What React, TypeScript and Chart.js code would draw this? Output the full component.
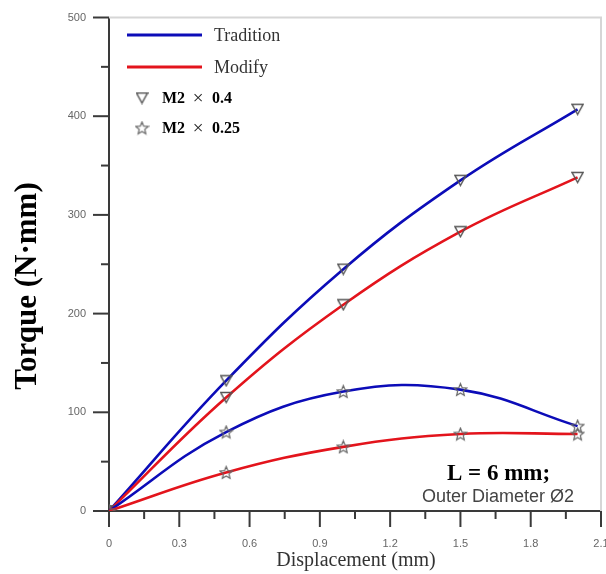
import React, { useEffect, useRef } from "react";
import { Chart, registerables } from "chart.js";

Chart.register(...registerables);

// ---- data ----
const displacement = [0, 0.5, 1.0, 1.5, 2.0];
const traditionM04 = [0, 132, 245, 335, 407];
const modifyM04 = [0, 115, 209, 283, 338];
const traditionM025 = [0, 80, 121, 123, 86];
const modifyM025 = [0, 39, 65, 78, 78];

const xTickValues = [0, 0.3, 0.6, 0.9, 1.2, 1.5, 1.8, 2.1];
const xTickLabels = ["0", "0.3", "0.6", "0.9", "1.2", "1.5", "1.8", "2.1"];
const yTickValues = [0, 100, 200, 300, 400, 500];
const yTickLabels = ["0", "100", "200", "300", "400", "500"];

const legendLines = ["Tradition", "Modify"];
const legendMarkerNames = ["M2", "M2"];
const legendMarkerFactors = ["0.4", "0.25"];

const BLUE = "#0c0cb8";
const RED = "#e3141c";
const MARK = "#555555";
const SERIF = "'Liberation Serif', 'Times New Roman', serif";
const SANS = "'Liberation Sans', Arial, sans-serif";

function makeTriangle(size: number, color: string) {
  const c = document.createElement("canvas");
  c.width = size;
  c.height = size;
  const ctx = c.getContext("2d")!;
  ctx.strokeStyle = color;
  ctx.lineWidth = 1.4;
  ctx.beginPath();
  ctx.moveTo(1, 1.5);
  ctx.lineTo(size - 1, 1.5);
  ctx.lineTo(size / 2, size - 1.5);
  ctx.closePath();
  ctx.stroke();
  return c;
}

function makeStar(size: number, color: string) {
  const c = document.createElement("canvas");
  c.width = size;
  c.height = size;
  const ctx = c.getContext("2d")!;
  ctx.strokeStyle = color;
  ctx.lineWidth = 1.2;
  const cx = size / 2;
  const cy = size / 2 + 0.5;
  const R = size / 2 - 1;
  const r = R * 0.45;
  ctx.beginPath();
  for (let i = 0; i < 10; i++) {
    const a = -Math.PI / 2 + (i * Math.PI) / 5;
    const rad = i % 2 === 0 ? R : r;
    ctx.lineTo(cx + rad * Math.cos(a), cy + rad * Math.sin(a));
  }
  ctx.closePath();
  ctx.stroke();
  return c;
}

export default function App() {
  const ref = useRef<HTMLCanvasElement | null>(null);

  useEffect(() => {
    if (!ref.current) return;
    const tri = makeTriangle(13, MARK);
    const star = makeStar(15, "#666666");

    const toPts = (ys: number[]) => displacement.map((x, i) => ({ x, y: ys[i] }));

    const series = (ys: number[], color: string, marker: HTMLCanvasElement, label: string) => ({
      label,
      data: toPts(ys),
      borderColor: color,
      borderWidth: 2.6,
      tension: 0.4,
      fill: false,
      pointStyle: marker,
      pointRadius: 6,
      pointHoverRadius: 6,
      pointBorderColor: MARK,
      pointBackgroundColor: "rgba(0,0,0,0)",
    });

    const decor = {
      id: "decor",
      beforeDatasetsDraw(chart: any) {
        const { ctx, chartArea: a } = chart;
        ctx.save();
        ctx.strokeStyle = "#d6d6d6";
        ctx.lineWidth = 2;
        ctx.beginPath();
        ctx.moveTo(a.left, a.top);
        ctx.lineTo(a.right, a.top);
        ctx.lineTo(a.right, a.bottom);
        ctx.stroke();
        ctx.restore();
      },
      afterDraw(chart: any) {
        const { ctx, chartArea: a, scales } = chart;
        const xs = scales.x;
        const ys = scales.y;
        ctx.save();
        ctx.strokeStyle = "#3a3a3a";
        ctx.lineWidth = 2;
        // x ticks (major + minor)
        xTickValues.forEach((v, i) => {
          const px = xs.getPixelForValue(v);
          ctx.beginPath();
          ctx.moveTo(px, a.bottom);
          ctx.lineTo(px, a.bottom + 16);
          ctx.stroke();
          if (i < xTickValues.length - 1) {
            const mx = xs.getPixelForValue((v + xTickValues[i + 1]) / 2);
            ctx.beginPath();
            ctx.moveTo(mx, a.bottom);
            ctx.lineTo(mx, a.bottom + 8);
            ctx.stroke();
          }
        });
        // y ticks
        yTickValues.forEach((v, i) => {
          const py = ys.getPixelForValue(v);
          ctx.beginPath();
          ctx.moveTo(a.left, py);
          ctx.lineTo(a.left - 16, py);
          ctx.stroke();
          if (i < yTickValues.length - 1) {
            const my = ys.getPixelForValue((v + yTickValues[i + 1]) / 2);
            ctx.beginPath();
            ctx.moveTo(a.left, my);
            ctx.lineTo(a.left - 8, my);
            ctx.stroke();
          }
        });

        // axis titles
        ctx.fillStyle = "#333333";
        ctx.font = `20px ${SERIF}`;
        ctx.textAlign = "center";
        ctx.textBaseline = "middle";
        ctx.fillText("Displacement (mm)", 356, 561);

        ctx.save();
        ctx.translate(28, 286);
        ctx.rotate(-Math.PI / 2);
        ctx.fillStyle = "#000000";
        ctx.font = `bold 31px ${SERIF}`;
        ctx.fillText("Torque (N·mm)", 0, 0);
        ctx.restore();

        // legend
        ctx.textAlign = "left";
        ctx.textBaseline = "middle";
        ctx.lineWidth = 3;
        const lineColors = [BLUE, RED];
        const lineYs = [35, 67];
        legendLines.forEach((t, i) => {
          ctx.strokeStyle = lineColors[i];
          ctx.beginPath();
          ctx.moveTo(127, lineYs[i]);
          ctx.lineTo(202, lineYs[i]);
          ctx.stroke();
          ctx.fillStyle = "#333333";
          ctx.font = `18px ${SERIF}`;
          ctx.fillText(t, 214, lineYs[i] + 1);
        });
        const markImgs = [tri, star];
        const markYs = [98, 128];
        legendMarkerNames.forEach((t, i) => {
          const img = markImgs[i];
          ctx.drawImage(img, 142 - img.width / 2, markYs[i] - img.height / 2);
          ctx.fillStyle = "#000000";
          ctx.textAlign = "left";
          ctx.font = `bold 16px ${SERIF}`;
          ctx.fillText(t, 162, markYs[i] + 1);
          ctx.textAlign = "center";
          ctx.font = `19px ${SERIF}`;
          ctx.fillStyle = "#222222";
          ctx.fillText("×", 198, markYs[i] + 1);
          ctx.textAlign = "left";
          ctx.fillStyle = "#000000";
          ctx.font = `bold 16px ${SERIF}`;
          ctx.fillText(legendMarkerFactors[i], 212, markYs[i] + 1);
        });

        // annotation
        ctx.textAlign = "left";
        ctx.fillStyle = "#000000";
        ctx.font = `bold 23px ${SERIF}`;
        ctx.fillText("L = 6 mm;", 447, 474);
        ctx.fillStyle = "#444444";
        ctx.font = `18px ${SANS}`;
        ctx.fillText("Outer Diameter Ø2", 422, 497);
        ctx.restore();
      },
    };

    const chart = new Chart(ref.current, {
      type: "line",
      data: {
        datasets: [
          series(modifyM025, RED, star, "Modify M2×0.25"),
          series(traditionM025, BLUE, star, "Tradition M2×0.25"),
          series(modifyM04, RED, tri, "Modify M2×0.4"),
          series(traditionM04, BLUE, tri, "Tradition M2×0.4"),
        ],
      },
      options: {
        responsive: false,
        animation: false,
        events: [],
        layout: { padding: { top: 17.5, right: 29, left: 0, bottom: 0 } },
        plugins: { legend: { display: false }, tooltip: { enabled: false } },
        scales: {
          x: {
            type: "linear",
            min: 0,
            max: 2.1,
            afterBuildTicks: (s: any) => {
              s.ticks = xTickValues.map((v) => ({ value: v }));
            },
            afterFit: (s: any) => {
              s.height = 63;
            },
            ticks: {
              autoSkip: false,
              maxRotation: 0,
              padding: 0,
              color: "#666666",
              font: { family: SANS, size: 11 },
              callback: (_v: any, i: number) => xTickLabels[i],
            },
            grid: {
              display: true,
              drawOnChartArea: false,
              drawTicks: true,
              tickLength: 26,
              tickColor: "rgba(0,0,0,0)",
            },
            border: { display: true, color: "#3a3a3a", width: 2 },
          },
          y: {
            type: "linear",
            min: 0,
            max: 500,
            afterBuildTicks: (s: any) => {
              s.ticks = yTickValues.map((v) => ({ value: v }));
            },
            afterFit: (s: any) => {
              s.width = 109;
            },
            ticks: {
              autoSkip: false,
              padding: 0,
              color: "#666666",
              font: { family: SANS, size: 11 },
              callback: (_v: any, i: number) => yTickLabels[i],
            },
            grid: {
              display: true,
              drawOnChartArea: false,
              drawTicks: true,
              tickLength: 23,
              tickColor: "rgba(0,0,0,0)",
            },
            border: { display: true, color: "#3a3a3a", width: 2 },
          },
        },
      },
      plugins: [decor],
    });
    return () => chart.destroy();
  }, []);

  return (
    <div
      style={{
        position: "absolute",
        left: 0,
        top: 0,
        width: 606,
        height: 574,
        overflow: "hidden",
        background: "#ffffff",
      }}
    >
      <canvas ref={ref} width={630} height={574} style={{ display: "block" }} />
    </div>
  );
}
